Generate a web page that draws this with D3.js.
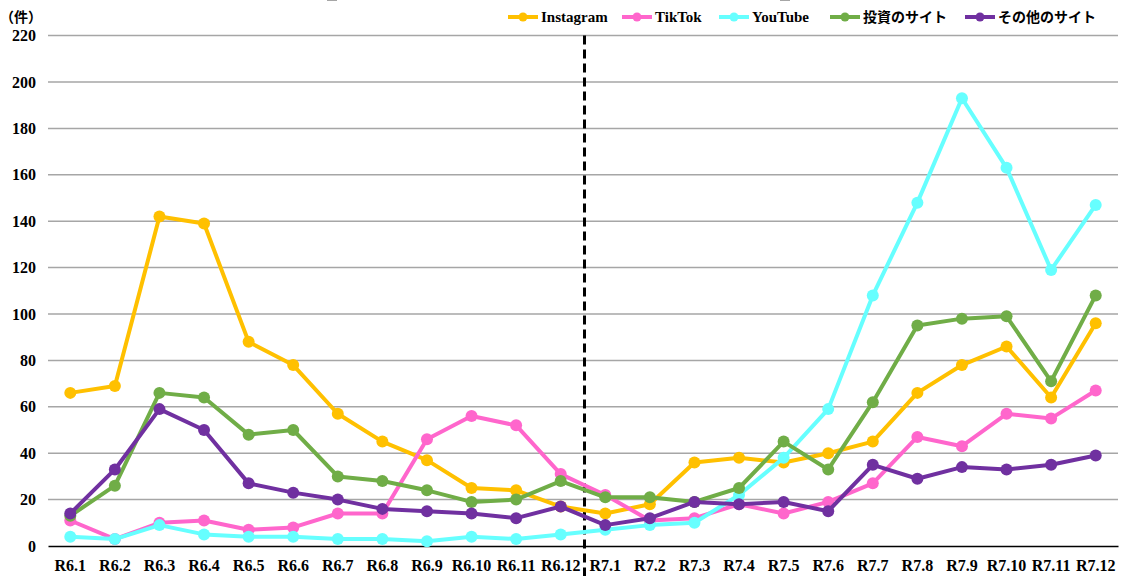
<!DOCTYPE html>
<html>
<head>
<meta charset="utf-8">
<script src="https://cdn.jsdelivr.net/npm/d3@7/dist/d3.min.js"></script>
<style>
  html, body { margin: 0; padding: 0; background: #fff; }
  svg { display: block; }
</style>
</head>
<body>
<svg id="chart" width="1122" height="576"></svg>
<script>
const categories = ["R6.1","R6.2","R6.3","R6.4","R6.5","R6.6","R6.7","R6.8","R6.9","R6.10","R6.11","R6.12",
                    "R7.1","R7.2","R7.3","R7.4","R7.5","R7.6","R7.7","R7.8","R7.9","R7.10","R7.11","R7.12"];
const seriesNames = ["Instagram","TikTok","YouTube","投資のサイト","その他のサイト"];
const seriesColors = ["#FFC000","#FF66CC","#66FFFF","#70AD47","#7030A0"];
const instagram = [66,69,142,139,88,78,57,45,37,25,24,17, 14,18,36,38,36,40,45,66,78,86,64,96];
const tiktok    = [11,3,10,11,7,8,14,14,46,56,52,31, 22,11,12,18,14,19,27,47,43,57,55,67];
const youtube   = [4,3,9,5,4,4,3,3,2,4,3,5, 7,9,10,22,38,59,108,148,193,163,119,147];
const toushi    = [13,26,66,64,48,50,30,28,24,19,20,28, 21,21,19,25,45,33,62,95,98,99,71,108];
const sonota    = [14,33,59,50,27,23,20,16,15,14,12,17, 9,12,19,18,19,15,35,29,34,33,35,39];
const yTicks = [0,20,40,60,80,100,120,140,160,180,200,220];
const yUnit = "（件）";
const dividerAfter = "R6.12";

const seriesData = [instagram, tiktok, youtube, toushi, sonota];

const LAT = '"Liberation Serif", "Times New Roman", serif';
const JP = '"Noto Sans CJK JP", sans-serif';

const svg = d3.select("#chart");
const mLeft = 48, mRight = 1118, mTop = 35.6, mBottom = 546;

const x = d3.scaleBand().domain(categories).range([mLeft, mRight]);
const y = d3.scaleLinear().domain([0, 220]).range([mBottom, mTop]);

// small cropped marks at the very top
svg.append("g").selectAll("rect").data([327, 780]).join("rect")
  .attr("x", d => d).attr("y", 0).attr("width", 10).attr("height", 1)
  .attr("fill", "#a6a6a6");

// gridlines
svg.append("g").selectAll("line").data(yTicks.filter(d => d > 0)).join("line")
  .attr("x1", mLeft).attr("x2", mRight)
  .attr("y1", d => y(d)).attr("y2", d => y(d))
  .attr("stroke", "#a6a6a6").attr("stroke-width", 1.5);

// y axis labels
const yAxis = d3.axisLeft(y).tickValues(yTicks).tickSize(0).tickPadding(12);
const gy = svg.append("g").attr("transform", `translate(${mLeft},0)`).call(yAxis);
gy.attr("font-family", null).attr("font-size", null);
gy.select(".domain").remove();
gy.selectAll("text").style("font-family", LAT).style("font-weight", "bold")
  .style("font-size", "16px").attr("fill", "#000");

// x axis
const xAxis = d3.axisBottom(x).tickSize(0).tickPadding(14);
const gx = svg.append("g").attr("transform", `translate(0,${mBottom})`).call(xAxis);
gx.attr("font-family", null).attr("font-size", null);
gx.select(".domain").attr("stroke", "#000").attr("stroke-width", 1.5);
gx.selectAll("text").style("font-family", LAT).style("font-weight", "bold")
  .style("font-size", "16px").attr("fill", "#000");

// unit label
svg.append("text").attr("x", 0).attr("y", 22)
  .style("font-family", JP).style("font-weight", "bold")
  .style("font-size", "14px").attr("fill", "#000").text(yUnit);

// divider
const dx = x(dividerAfter) + x.bandwidth() + 1.5;
svg.append("line").attr("x1", dx).attr("x2", dx).attr("y1", mTop).attr("y2", 576)
  .attr("stroke", "#000").attr("stroke-width", 3).attr("stroke-dasharray", "9,5");

// series
const line = d3.line().x((d, i) => x(categories[i]) + x.bandwidth() / 2).y(d => y(d));
seriesData.forEach((vals, si) => {
  const g = svg.append("g");
  g.append("path").datum(vals).attr("d", line)
    .attr("fill", "none").attr("stroke", seriesColors[si]).attr("stroke-width", 4)
    .attr("stroke-linejoin", "round");
  g.selectAll("circle").data(vals).join("circle")
    .attr("cx", (d, i) => x(categories[i]) + x.bandwidth() / 2)
    .attr("cy", d => y(d)).attr("r", 6).attr("fill", seriesColors[si]);
});

// legend
const legendX = [508, 622, 719, 830, 965];
const lg = svg.append("g");
seriesNames.forEach((name, i) => {
  const lx = legendX[i], ly = 17;
  lg.append("line").attr("x1", lx).attr("x2", lx + 30).attr("y1", ly).attr("y2", ly)
    .attr("stroke", seriesColors[i]).attr("stroke-width", 4);
  lg.append("circle").attr("cx", lx + 15).attr("cy", ly).attr("r", 4.5).attr("fill", seriesColors[i]);
  const isJp = /[^\x00-\x7F]/.test(name);
  lg.append("text")
    .attr("x", lx + 33).attr("y", ly).attr("dy", "0.35em")
    .style("font-family", isJp ? JP : LAT).style("font-weight", "bold")
    .style("font-size", isJp ? "14px" : "15px").attr("fill", "#000").text(name);
});
</script>
</body>
</html>
